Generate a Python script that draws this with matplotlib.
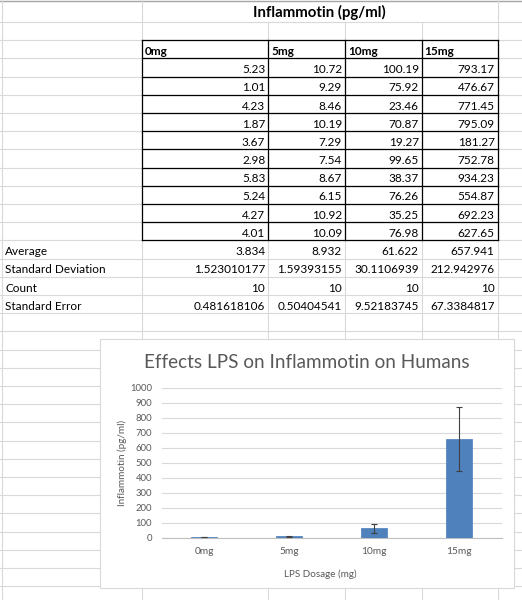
import matplotlib
matplotlib.use("Agg")
import matplotlib.pyplot as plt
from matplotlib.patches import Rectangle
import numpy as np

plt.rcParams['font.family'] = ['Lato', 'DejaVu Sans']

# Sheet data
doses = ['0mg', '5mg', '10mg', '15mg']
mg0 = [5.23, 1.01, 4.23, 1.87, 3.67, 2.98, 5.83, 5.24, 4.27, 4.01]
mg5 = [10.72, 9.29, 8.46, 10.19, 7.29, 7.54, 8.67, 6.15, 10.92, 10.09]
mg10 = [100.19, 75.92, 23.46, 70.87, 19.27, 99.65, 38.37, 76.26, 35.25, 76.98]
mg15 = [793.17, 476.67, 771.45, 795.09, 181.27, 752.78, 934.23, 554.87, 692.23, 627.65]

stat_names = ['Average', 'Standard Deviation', 'Count', 'Standard Error']
average = [3.834, 8.932, 61.622, 657.941]
std_dev = [1.523010177, 1.59393155, 30.1106939, 212.942976]
count = [10, 10, 10, 10]
std_err = [0.481618106, 0.50404541, 9.52183745, 67.3384817]

W, H = 522, 600
fig = plt.figure(figsize=(5.22, 6.0), dpi=100)
fig.patch.set_facecolor('white')

# whole-figure axes in pixel coords for the spreadsheet
sheet = fig.add_axes([0, 0, 1, 1])
sheet.set_xlim(0, W)
sheet.set_ylim(H, 0)
sheet.axis('off')

col_x = [2, 141.7, 268.3, 345, 421.7, 497.7]
row_y = [1] + [22 + 18.2 * k for k in range(32)]
grid_c = '#d9d9d9'

# light grid
sheet.plot([0, W], [0.6, 0.6], color='#a6a6a6', lw=1)
for y in row_y[1:]:
    sheet.plot([0, W], [y, y], color=grid_c, lw=0.8)
for i, x in enumerate(col_x):
    y0 = 0 if i in (0, 1, 5) else row_y[1]
    sheet.plot([x, x], [y0, H], color=grid_c, lw=0.8)

# black table borders
top, bot = row_y[2], row_y[13]
for y in row_y[2:14]:
    sheet.plot([col_x[1], col_x[5]], [y, y], color='black', lw=0.9)
for x in col_x[1:]:
    sheet.plot([x, x], [top, bot], color='black', lw=0.9)

fs = 8.5
sheet.text((col_x[1] + col_x[5]) / 2, 16.5, 'Inflammotin (pg/ml)', ha='center',
           va='baseline', fontsize=10.8, fontweight='bold')

for c, name in enumerate(doses):
    sheet.text(col_x[c + 1] + 3, row_y[3] - 3.5, name, ha='left', va='baseline',
               fontsize=fs, fontweight='bold')

columns = [mg0, mg5, mg10, mg15]
for c, vals in enumerate(columns):
    for r, v in enumerate(vals):
        sheet.text(col_x[c + 2] - 3, row_y[4 + r] - 3.5, f'{v:.2f}', ha='right',
                   va='baseline', fontsize=fs)

stats = [average, std_dev, count, std_err]
for r, (name, vals) in enumerate(zip(stat_names, stats)):
    yb = row_y[14 + r] - 3.5
    sheet.text(col_x[0] + 3, yb, name, ha='left', va='baseline', fontsize=fs)
    for c, v in enumerate(vals):
        sheet.text(col_x[c + 2] - 3, yb, str(v), ha='right', va='baseline', fontsize=fs)

# chart box
sheet.add_patch(Rectangle((100, 339), 414, 249, facecolor='white',
                          edgecolor='#d9d9d9', lw=0.8, zorder=5))
txt_c = '#595959'
sheet.text(307, 363, 'Effects LPS on Inflammotin on Humans', ha='center', va='center',
           fontsize=13.6, color=txt_c, zorder=6)
sheet.text(122, 463, 'Inflammotin (pg/ml)', ha='center', va='center', rotation=90,
           fontsize=7.1, color=txt_c, zorder=6)
sheet.text(320, 574, 'LPS Dosage (mg)', ha='center', va='center',
           fontsize=7.1, color=txt_c, zorder=6)

# chart plot area
left, right = 161.7 / W, 501.7 / W
bottom, topf = (H - 537.7) / H, (H - 387.7) / H
ax = fig.add_axes([left, bottom, right - left, topf - bottom])
ax.set_facecolor('none')
x = np.arange(len(doses))
ax.bar(x, average, width=0.3, color='#4F81BD', edgecolor='#4A7EBB', lw=0.5,
       yerr=std_dev, zorder=3,
       error_kw=dict(ecolor='#404040', elinewidth=0.8, capsize=2.5, capthick=0.8))
ax.set_xlim(-0.5, 3.5)
ax.set_ylim(0, 1000)
ax.set_yticks(range(0, 1001, 100))
ax.set_xticks(x)
ax.set_xticklabels(doses)
ax.grid(axis='y', color=grid_c, lw=0.8, zorder=0)
for s in ['top', 'right', 'left']:
    ax.spines[s].set_visible(False)
ax.spines['bottom'].set_color('#bfbfbf')
ax.tick_params(axis='both', length=0, labelcolor=txt_c)
ax.tick_params(axis='y', pad=7, labelsize=6.8)
ax.tick_params(axis='x', pad=6.5, labelsize=7.3)

fig.savefig('out.png', dpi=100)
